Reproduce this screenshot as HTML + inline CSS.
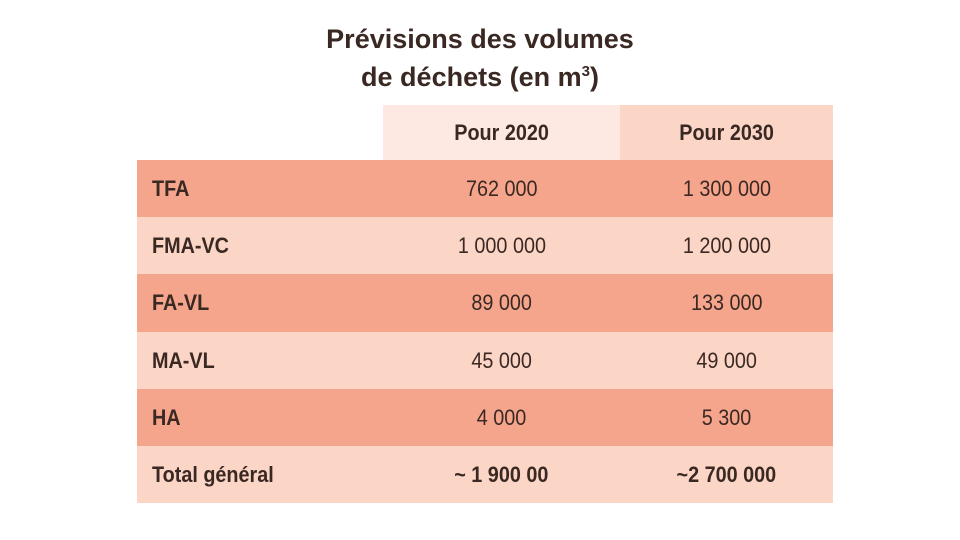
<!DOCTYPE html>
<html><head><meta charset="utf-8"><style>
body{margin:0;width:960px;height:540px;background:#fff;position:relative;overflow:hidden;font-family:"Liberation Sans",sans-serif;color:#3a2823}
.t{position:absolute;left:0;width:960px;text-align:center;font-weight:bold;font-size:27px;color:#3a2823}
.c{position:absolute;display:flex;align-items:center;font-size:22px}
.c span{display:inline-block;transform:scaleX(0.9)}
.lab{font-weight:bold;padding-left:15px;box-sizing:border-box}
.lab span{transform-origin:left center}
.num{justify-content:center}
</style></head><body>
<div class="t" style="top:24px">Prévisions des volumes</div>
<div class="t" style="top:62px">de déchets (en m<sup style="font-size:15px">3</sup>)</div>
<div id="tbl"></div>
<script>
const labels=["TFA","FMA-VC","FA-VL","MA-VL","HA","Total général"];
const v2020=["762 000","1 000 000","89 000","45 000","4 000","~ 1 900 00"];
const v2030=["1 300 000","1 200 000","133 000","49 000","5 300","~2 700 000"];
const tbl=document.getElementById('tbl');
function cell(x,y,w,h,bg,cls,txt,name,bold){
  const d=document.createElement('div');
  
  
  d.className='c '+cls;
  d.style.cssText=`left:${x}px;top:${y}px;width:${w}px;height:${h}px;background:${bg};`+(bold?'font-weight:bold;':'');
  const s=document.createElement('span');s.textContent=txt;d.appendChild(s);
  tbl.appendChild(d);
}
cell(383,105,237,55,'#fde9e1','num','Pour 2020','header-2020',true);
cell(620,105,213,55,'#fbd6c7','num','Pour 2030','header-2030',true);
const top0=160,rh=57.2;
labels.forEach((l,i)=>{
  const y=Math.round(top0+i*rh),h=Math.round(top0+(i+1)*rh)-y;
  const bg=i%2==0&&i<5?'#f5a58c':'#fbd5c6';
  const tot=i==5;
  cell(137,y,246,h,bg,'lab',l,'row-label-'+i,true);
  cell(383,y,237,h,bg,'num',v2020[i],'value-2020-'+i,tot);
  cell(620,y,213,h,bg,'num',v2030[i],'value-2030-'+i,tot);
});
</script>
</body></html>
